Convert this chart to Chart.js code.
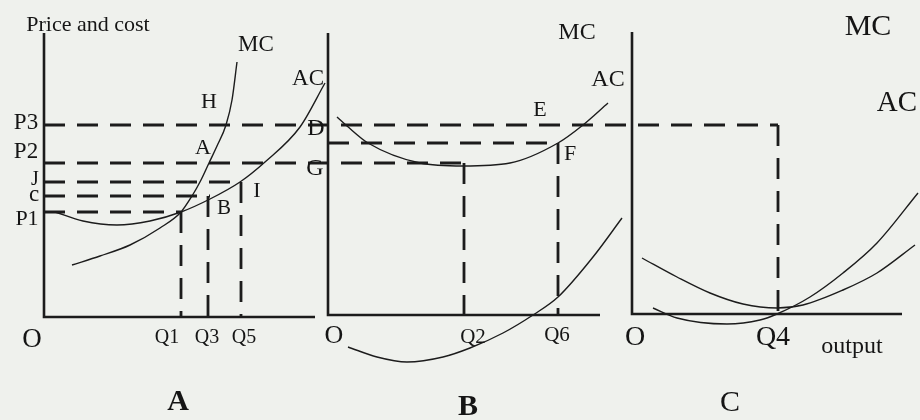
<!DOCTYPE html>
<html><head><meta charset="utf-8">
<script src="https://cdn.jsdelivr.net/npm/chart.js@4/dist/chart.umd.min.js"></script>
<style>html,body{margin:0;padding:0;background:#eff1ed;}canvas{display:block;}</style>
</head><body>
<canvas id="c" width="920" height="420"></canvas>
<script>
// ---- Data (x = output units, y = price/cost units; 0..920 x 0..420 diagram space)
// Axes of the three panels
const axisA = [[44,387],[44,103],[315,103]];
const axisB = [[328,387],[328,105],[600,105]];
const axisC = [[632,388],[632,106],[902,106]];

// Cost curves
const mcA = [[72,155],[100,164],[130,175],[160,192],[181,208],[192,224],[201,240],[209,257],[217,274],[226,295],[232,320],[237,358]];
const acA = [[55,208],[83,199],[117,195],[150,199],[181,208],[210,221],[240,238],[265,258],[300,293],[325,337]];
const acB = [[337,303],[347,294],[368,277],[420,257],[463,254],[510,257],[558,277],[583,295],[608,317]];
const mcB = [[348,73],[377,63],[407,58],[443,63],[470,72],[503,87],[533,105],[558,123],[593,163],[622,202]];
const acC = [[642,162],[677,143],[710,127],[743,116],[777,112],[803,115],[843,130],[877,147],[915,175]];
const mcC = [[653,112],[677,102],[727,96],[760,100],[777,106],[810,123],[843,147],[877,177],[918,227]];

// Price levels (horizontal dashed guides): [level, fromX, toX]
const priceP3 = [295, 44, 778];
const priceP2 = [257, 44, 464];
const priceF  = [277, 328, 558];
const priceJ  = [238, 44, 241];
const priceC  = [224, 44, 210];
const priceP1 = [208, 44, 181];

// Output levels (vertical dashed guides): [quantity, topY, baseY]
const qtyQ1 = [181, 208, 103];
const qtyQ3 = [208, 224, 103];
const qtyQ5 = [241, 238, 103];
const qtyQ2 = [464, 257, 105];
const qtyQ6 = [558, 277, 105];
const qtyQ4 = [778, 295, 106];

// Text labels: [text, x, y, size, bold]
const labels = [
  ["Price and cost", 88, 395, 22, false],
  ["MC", 256, 375, 23, false], ["AC", 308, 341, 23, false],
  ["H", 209, 318, 22, false], ["A", 203, 272, 22, false],
  ["P3", 26, 297, 23, false], ["P2", 26, 268, 23, false],
  ["J", 35, 240, 20, false], ["c", 34, 225, 23, false], ["P1", 27, 201, 22, false],
  ["B", 224, 212, 21, false], ["I", 257, 229, 22, false],
  ["O", 32, 80, 27, false], ["Q1", 167, 82, 20, false], ["Q3", 207, 82, 20, false], ["Q5", 244, 82, 20, false],
  ["A", 178, 18, 30, true],
  ["MC", 577, 387, 24, false], ["AC", 608, 340, 24, false], ["E", 540, 310, 22, false],
  ["D", 316, 291, 24, false], ["G", 315, 251, 24, false], ["F", 570, 266, 22, false],
  ["O", 334, 84, 26, false], ["Q2", 473, 83, 21, false], ["Q6", 557, 85, 21, false],
  ["B", 468, 13, 30, true],
  ["MC", 868, 393, 30, false], ["AC", 897, 317, 29, false],
  ["O", 635, 82, 28, false], ["Q4", 773, 82, 28, false], ["output", 852, 73, 24, false],
  ["C", 730, 17, 30, false]
];

// ---- Build datasets
const ink = '#1c1c1c';
const toPts = arr => arr.map(p => ({x: p[0], y: p[1]}));
const solid = (arr, w) => ({data: toPts(arr), showLine: true, borderColor: ink, borderWidth: w, pointRadius: 0, tension: 0, fill: false});
const curve = arr => ({data: toPts(arr), showLine: true, borderColor: ink, borderWidth: 1.4, pointRadius: 0, cubicInterpolationMode: 'monotone', fill: false});
const hDash = g => ({data: [{x: g[1], y: g[0]}, {x: g[2], y: g[0]}], showLine: true, borderColor: ink, borderWidth: 2.8, borderDash: [21, 12], pointRadius: 0, fill: false});
const vDash = g => ({data: [{x: g[0], y: g[1]}, {x: g[0], y: g[2]}], showLine: true, borderColor: ink, borderWidth: 2.8, borderDash: [21, 12], pointRadius: 0, fill: false});

const datasets = [
  solid(axisA, 2.6), solid(axisB, 2.6), solid(axisC, 2.6),
  curve(mcA), curve(acA), curve(acB), curve(mcB), curve(acC), curve(mcC),
  hDash(priceP3), hDash(priceP2), hDash(priceF), hDash(priceJ), hDash(priceC), hDash(priceP1),
  vDash(qtyQ1), vDash(qtyQ3), vDash(qtyQ5), vDash(qtyQ2), vDash(qtyQ6), vDash(qtyQ4)
];

const textPlugin = {
  id: 'diagramText',
  afterDatasetsDraw(chart) {
    const ctx = chart.ctx, xs = chart.scales.x, ys = chart.scales.y;
    ctx.save();
    ctx.fillStyle = '#151515';
    ctx.textAlign = 'center';
    ctx.textBaseline = 'middle';
    labels.forEach(([t, x, y, s, b]) => {
      ctx.font = (b ? 'bold ' : '') + s + 'px "Liberation Serif", "DejaVu Serif", serif';
      ctx.fillText(t, xs.getPixelForValue(x), ys.getPixelForValue(y));
    });
    ctx.restore();
  }
};

new Chart(document.getElementById('c'), {
  type: 'scatter',
  data: {datasets},
  options: {
    responsive: false,
    animation: false,
    layout: {padding: 0},
    plugins: {legend: {display: false}, tooltip: {enabled: false}},
    scales: {
      x: {type: 'linear', min: 0, max: 920, display: false},
      y: {type: 'linear', min: 0, max: 420, display: false}
    }
  },
  plugins: [textPlugin]
});
</script>
</body></html>
